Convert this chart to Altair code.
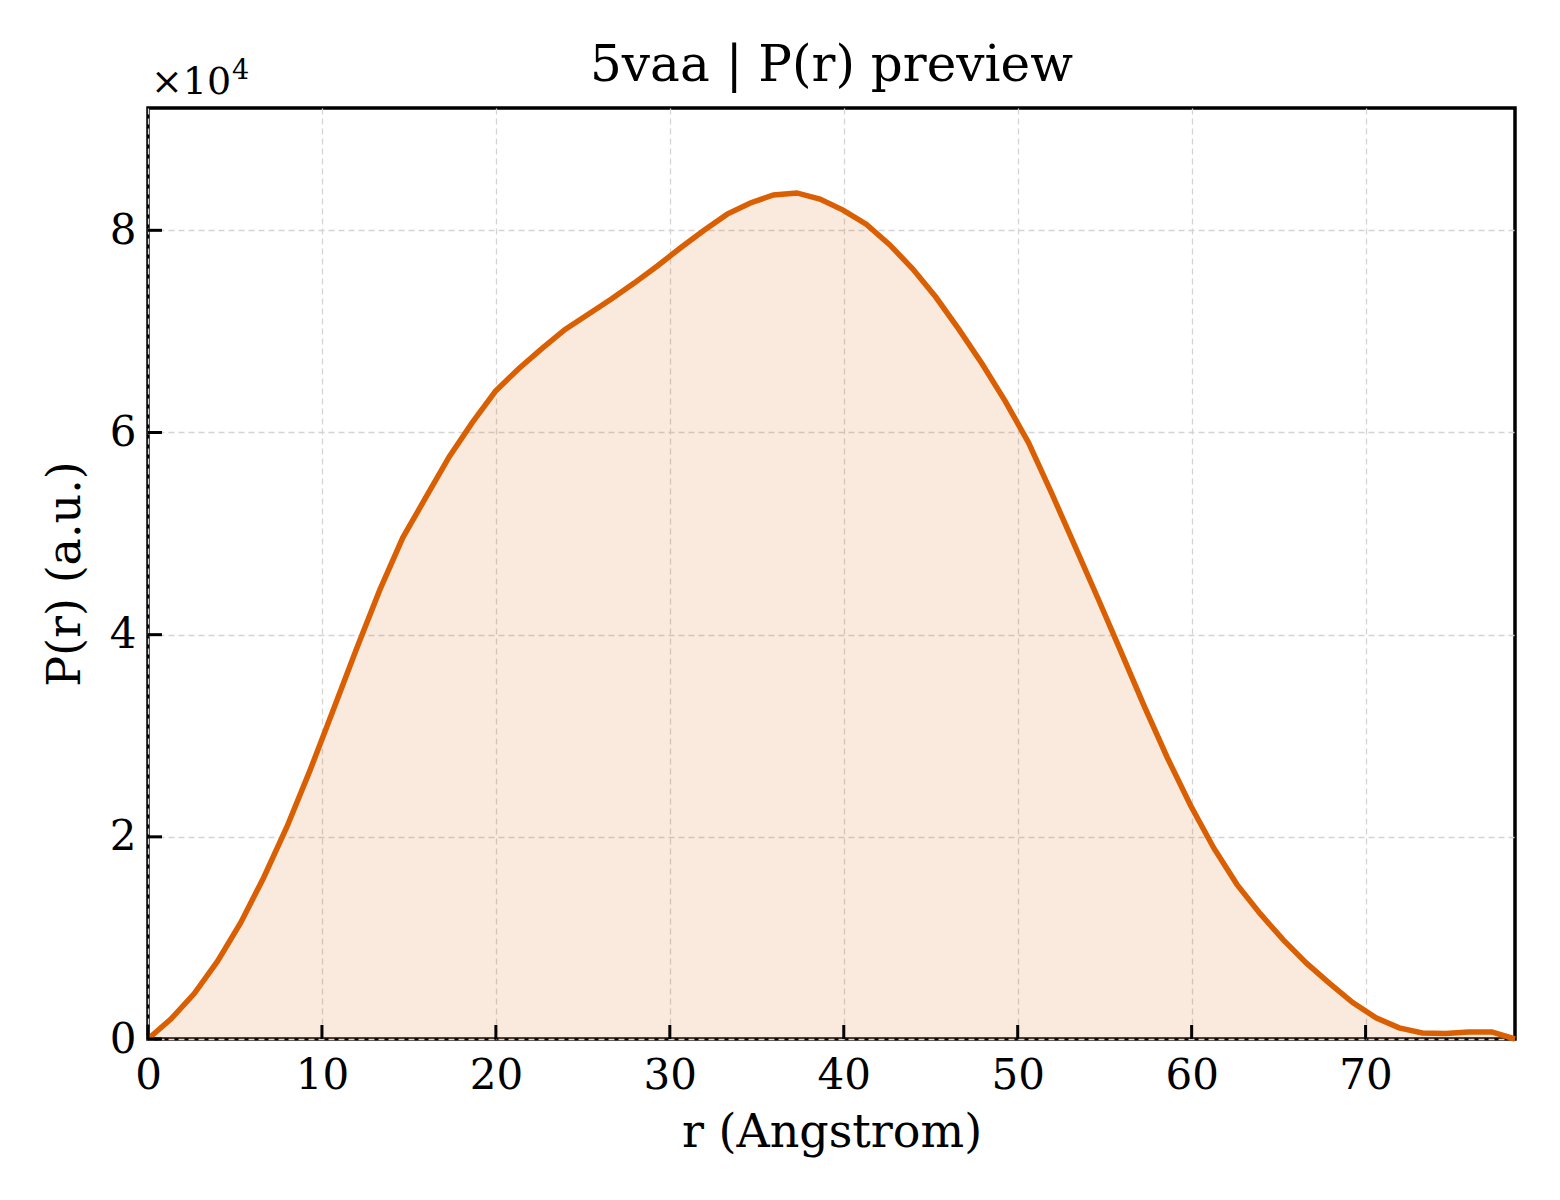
import altair as alt
import pandas as pd

r_values = [0.0, 1.33, 2.66, 4.0, 5.33, 6.66, 7.99, 9.32, 10.66, 11.99, 13.32, 14.65, 15.98,
            17.32, 18.65, 19.98, 21.31, 22.64, 23.98, 25.31, 26.64, 27.97, 29.30, 30.64, 31.97,
            33.30, 34.63, 35.96, 37.30, 38.63, 39.96, 41.29, 42.62, 43.96, 45.29, 46.62, 47.95,
            49.28, 50.62, 51.95, 53.28, 54.61, 55.94, 57.28, 58.61, 59.94, 61.27, 62.60, 63.94,
            65.27, 66.60, 67.93, 69.26, 70.60, 71.93, 73.26, 74.59, 75.92, 77.26, 78.59]
pr_values = [0, 2000, 4500, 7700, 11500, 16000, 21000, 26600, 32600, 38600, 44400, 49600, 53600,
             57600, 61000, 64100, 66300, 68300, 70200, 71700, 73200, 74800, 76500, 78300, 80000,
             81600, 82700, 83500, 83700, 83100, 82000, 80600, 78600, 76200, 73400, 70200, 66800,
             63100, 59000, 54000, 48800, 43600, 38300, 32900, 27800, 23100, 18900, 15300, 12400,
             9800, 7500, 5500, 3600, 2100, 1100, 600, 550, 700, 700, 0]

x_ticks = [0, 10, 20, 30, 40, 50, 60, 70]
y_ticks = [0, 20000, 40000, 60000, 80000]
x_max = 78.59
y_max = 92100

df = pd.DataFrame({"r": r_values, "p": pr_values})
xt = pd.DataFrame({"t": x_ticks})
yt = pd.DataFrame({"t": y_ticks})

W, H = 1367, 931
FONT = "DejaVu Serif"
ORANGE = "#D95F02"

xscale = alt.Scale(domain=[0, x_max], nice=False, zero=False)
yscale = alt.Scale(domain=[0, y_max], nice=False, zero=False)

x_axis = alt.Axis(values=x_ticks, title="r (Angstrom)", grid=True, gridDash=[6, 4],
                  gridColor="#d4d4d4", gridWidth=1.3, domain=False, ticks=False,
                  labelFlush=False, labelOverlap=False,
                  labelPadding=16, labelFontSize=42, titleFontSize=46, titlePadding=14,
                  labelFont=FONT, titleFont=FONT, labelColor="black", titleColor="black",
                  titleFontWeight="normal")
y_axis = alt.Axis(values=y_ticks, title="P(r) (a.u.)", grid=True, gridDash=[6, 4],
                  gridColor="#d4d4d4", gridWidth=1.3, domain=False, ticks=False,
                  labelFlush=False, labelOverlap=False,
                  labelPadding=12, labelFontSize=42, titleFontSize=46, titlePadding=20,
                  labelExpr="datum.value / 10000", labelFont=FONT, titleFont=FONT,
                  labelColor="black", titleColor="black", titleFontWeight="normal")

area = alt.Chart(df).mark_area(color=ORANGE, opacity=0.13).encode(
    x=alt.X("r:Q", scale=xscale, axis=x_axis),
    y=alt.Y("p:Q", scale=yscale, axis=y_axis),
)
line = alt.Chart(df).mark_line(color=ORANGE, strokeWidth=5.5).encode(
    x=alt.X("r:Q", scale=xscale),
    y=alt.Y("p:Q", scale=yscale),
)
xtick_marks = alt.Chart(xt).mark_rule(color="black", strokeWidth=3).encode(
    x=alt.X("t:Q", scale=xscale),
    y=alt.value(H),
    y2=alt.value(H - 14),
)
ytick_marks = alt.Chart(yt).mark_rule(color="black", strokeWidth=3).encode(
    y=alt.Y("t:Q", scale=yscale),
    x=alt.value(0),
    x2=alt.value(14),
)
offset_base = alt.Chart(pd.DataFrame({"s": ["×10"]})).mark_text(
    align="left", baseline="alphabetic", font=FONT, fontSize=38, color="black"
).encode(text="s:N", x=alt.value(3), y=alt.value(-14))
offset_exp = alt.Chart(pd.DataFrame({"s": ["4"]})).mark_text(
    align="left", baseline="alphabetic", font=FONT, fontSize=27, color="black"
).encode(text="s:N", x=alt.value(84), y=alt.value(-29))

chart = alt.layer(area, line, xtick_marks, ytick_marks, offset_base, offset_exp).properties(
    width=W, height=H,
    title=alt.TitleParams("5vaa | P(r) preview", font=FONT, fontSize=50,
                          fontWeight="normal", color="black", offset=18, dy=52),
    autosize=alt.AutoSizeParams(type="none"),
    padding={"left": 140, "top": 100, "right": 37, "bottom": 150},
).configure(background="white").configure_view(stroke="black", strokeWidth=3.5)

chart.save("out.html", embed_options={"renderer": "svg", "actions": False})
